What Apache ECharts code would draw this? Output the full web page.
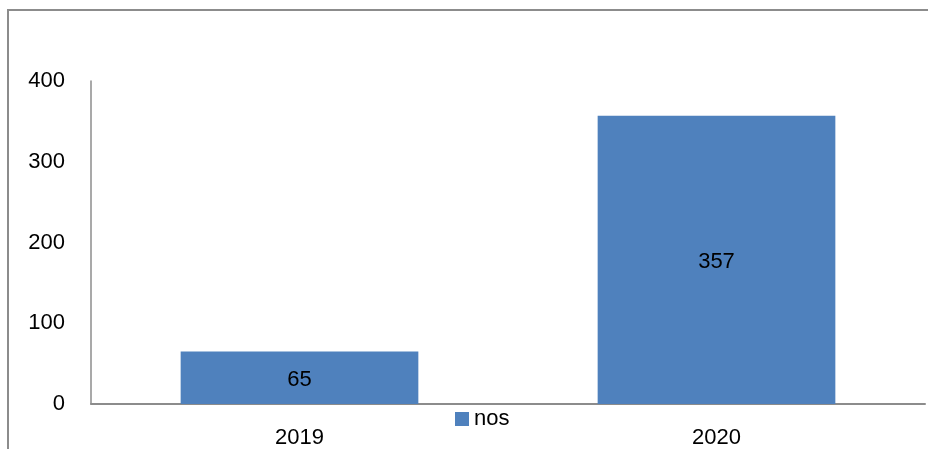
<!DOCTYPE html>
<html><head><meta charset="utf-8">
<script src="https://cdn.jsdelivr.net/npm/echarts@6/dist/echarts.min.js"></script>
<style>html,body{margin:0;padding:0;background:#fff}#c{width:928px;height:449px}</style>
</head><body><div id="c"></div>
<script>
const categories = ['2019', '2020'];
const seriesName = 'nos';
const values = [65, 357];
const yTicks = [0, 100, 200, 300, 400];

const chart = echarts.init(document.getElementById('c'), null, {renderer: 'canvas'});
const font = 'Liberation Sans';
chart.setOption({
  animation: false,
  graphic: [{
    type: 'rect', shape: {x: 8, y: 10, width: 940, height: 460},
    style: {fill: 'none', stroke: '#8c8c8c', lineWidth: 2}, silent: true
  }],
  grid: {left: 91, right: 3, top: 81, bottom: 44, containLabel: false},
  legend: {
    data: [seriesName], left: 450, top: 403, itemWidth: 14, itemHeight: 14, itemGap: 4,
    icon: 'rect', textStyle: {fontFamily: font, fontSize: 22, color: '#000'}
  },
  xAxis: {
    type: 'category', data: categories,
    axisLine: {lineStyle: {color: '#8c8c8c', width: 2}},
    axisTick: {show: false},
    axisLabel: {fontFamily: font, fontSize: 22, color: '#000', margin: 23}
  },
  yAxis: {
    type: 'value', min: yTicks[0], max: yTicks[yTicks.length - 1], interval: 100,
    axisLine: {show: true, lineStyle: {color: '#8c8c8c', width: 1.5}},
    axisTick: {show: false},
    splitLine: {show: false},
    axisLabel: {fontFamily: font, fontSize: 22, color: '#000', margin: 26}
  },
  series: [{
    name: seriesName, type: 'bar', data: values, barCategoryGap: '43%',
    itemStyle: {color: '#4f81bd'},
    label: {show: true, position: 'inside', offset: [0, 2], fontFamily: font, fontSize: 22, color: '#000'}
  }]
});
</script></body></html>
